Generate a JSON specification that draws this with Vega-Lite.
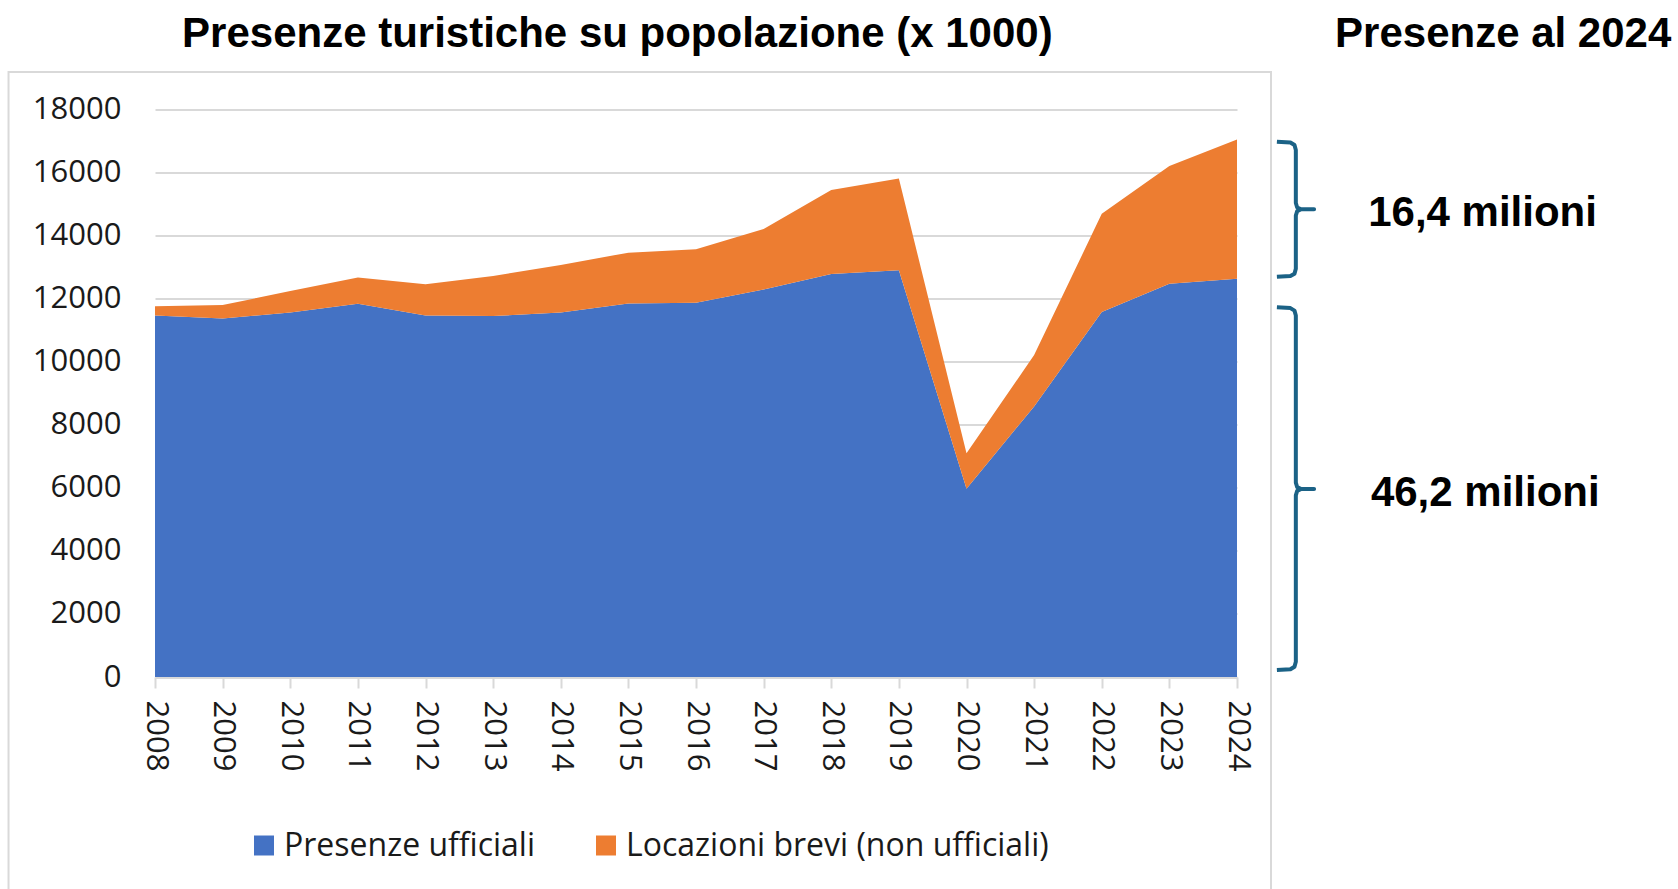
{
  "$schema": "https://vega.github.io/schema/vega-lite/v6.json",
  "width": 1082,
  "height": 567.5,
  "autosize": {"type": "none"},
  "padding": {"left": 155, "top": 109.5, "right": 441, "bottom": 212},
  "background": "white",
  "config": {"view": {"stroke": null}},
  "layer": [
    {
      "data": {
        "values": [
          {"anno": 2008, "serie": "Presenze ufficiali", "presenze": 11470},
          {"anno": 2009, "serie": "Presenze ufficiali", "presenze": 11370},
          {"anno": 2010, "serie": "Presenze ufficiali", "presenze": 11560},
          {"anno": 2011, "serie": "Presenze ufficiali", "presenze": 11840},
          {"anno": 2012, "serie": "Presenze ufficiali", "presenze": 11470},
          {"anno": 2013, "serie": "Presenze ufficiali", "presenze": 11450},
          {"anno": 2014, "serie": "Presenze ufficiali", "presenze": 11560},
          {"anno": 2015, "serie": "Presenze ufficiali", "presenze": 11850},
          {"anno": 2016, "serie": "Presenze ufficiali", "presenze": 11870},
          {"anno": 2017, "serie": "Presenze ufficiali", "presenze": 12290},
          {"anno": 2018, "serie": "Presenze ufficiali", "presenze": 12780},
          {"anno": 2019, "serie": "Presenze ufficiali", "presenze": 12900},
          {"anno": 2020, "serie": "Presenze ufficiali", "presenze": 5970},
          {"anno": 2021, "serie": "Presenze ufficiali", "presenze": 8580},
          {"anno": 2022, "serie": "Presenze ufficiali", "presenze": 11580},
          {"anno": 2023, "serie": "Presenze ufficiali", "presenze": 12470},
          {"anno": 2024, "serie": "Presenze ufficiali", "presenze": 12630},
          {"anno": 2008, "serie": "Locazioni brevi (non ufficiali)", "presenze": 290},
          {"anno": 2009, "serie": "Locazioni brevi (non ufficiali)", "presenze": 430},
          {"anno": 2010, "serie": "Locazioni brevi (non ufficiali)", "presenze": 680},
          {"anno": 2011, "serie": "Locazioni brevi (non ufficiali)", "presenze": 830},
          {"anno": 2012, "serie": "Locazioni brevi (non ufficiali)", "presenze": 990},
          {"anno": 2013, "serie": "Locazioni brevi (non ufficiali)", "presenze": 1270},
          {"anno": 2014, "serie": "Locazioni brevi (non ufficiali)", "presenze": 1510},
          {"anno": 2015, "serie": "Locazioni brevi (non ufficiali)", "presenze": 1610},
          {"anno": 2016, "serie": "Locazioni brevi (non ufficiali)", "presenze": 1700},
          {"anno": 2017, "serie": "Locazioni brevi (non ufficiali)", "presenze": 1920},
          {"anno": 2018, "serie": "Locazioni brevi (non ufficiali)", "presenze": 2670},
          {"anno": 2019, "serie": "Locazioni brevi (non ufficiali)", "presenze": 2910},
          {"anno": 2020, "serie": "Locazioni brevi (non ufficiali)", "presenze": 1130},
          {"anno": 2021, "serie": "Locazioni brevi (non ufficiali)", "presenze": 1630},
          {"anno": 2022, "serie": "Locazioni brevi (non ufficiali)", "presenze": 3110},
          {"anno": 2023, "serie": "Locazioni brevi (non ufficiali)", "presenze": 3740},
          {"anno": 2024, "serie": "Locazioni brevi (non ufficiali)", "presenze": 4420}
        ]
      },
      "mark": {"type": "area", "interpolate": "linear", "opacity": 1},
      "encoding": {
        "x": {
          "field": "anno",
          "type": "quantitative",
          "scale": {"domain": [2008, 2024], "nice": false, "zero": false},
          "axis": {
            "title": null,
            "values": [2008, 2009, 2010, 2011, 2012, 2013, 2014, 2015, 2016, 2017, 2018, 2019, 2020, 2021, 2022, 2023, 2024],
            "format": "d",
            "labelAngle": 90,
            "grid": false,
            "domainColor": "#d9d9d9",
            "domainWidth": 2,
            "tickColor": "#d9d9d9",
            "tickWidth": 2,
            "tickSize": 11,
            "labelPadding": 12,
            "labelFont": "Open Sans",
            "labelFontSize": 31,
            "labelColor": "#1a1a1a",
            "labelFlush": false,
            "labelOverlap": false
          }
        },
        "y": {
          "field": "presenze",
          "type": "quantitative",
          "stack": "zero",
          "scale": {"domain": [0, 18000], "nice": false},
          "axis": {
            "title": null,
            "values": [0, 2000, 4000, 6000, 8000, 10000, 12000, 14000, 16000, 18000],
            "format": "d",
            "domain": false,
            "ticks": false,
            "gridColor": "#d9d9d9",
            "gridWidth": 2,
            "labelPadding": 34,
            "labelFont": "Open Sans",
            "labelFontSize": 31,
            "labelColor": "#1a1a1a"
          }
        },
        "color": {
          "field": "serie",
          "type": "nominal",
          "scale": {
            "domain": ["Presenze ufficiali", "Locazioni brevi (non ufficiali)"],
            "range": ["#4472c4", "#ed7d31"]
          },
          "legend": {
            "orient": "none",
            "legendX": 93,
            "legendY": 720,
            "direction": "horizontal",
            "title": null,
            "symbolType": "square",
            "symbolSize": 400,
            "symbolStrokeWidth": 0,
            "symbolOpacity": 1,
            "labelFont": "Open Sans",
            "labelFontSize": 32,
            "labelColor": "#1a1a1a",
            "labelOffset": 4,
            "columnPadding": 55,
            "labelLimit": 0
          }
        },
        "order": {"field": "serie", "sort": "descending"}
      }
    },
    {
      "data": {
        "values": [
          {"graffa": "alta", "anno": 2024.59, "presenze": 16979},
          {"graffa": "alta", "anno": 2024.79, "presenze": 16953},
          {"graffa": "alta", "anno": 2024.85, "presenze": 16874},
          {"graffa": "alta", "anno": 2024.87, "presenze": 16716},
          {"graffa": "alta", "anno": 2024.87, "presenze": 15035},
          {"graffa": "alta", "anno": 2024.89, "presenze": 14892},
          {"graffa": "alta", "anno": 2024.95, "presenze": 14835},
          {"graffa": "alta", "anno": 2025.14, "presenze": 14835},
          {"graffa": "alta", "anno": 2024.95, "presenze": 14835},
          {"graffa": "alta", "anno": 2024.89, "presenze": 14778},
          {"graffa": "alta", "anno": 2024.87, "presenze": 14638},
          {"graffa": "alta", "anno": 2024.87, "presenze": 12951},
          {"graffa": "alta", "anno": 2024.85, "presenze": 12790},
          {"graffa": "alta", "anno": 2024.79, "presenze": 12720},
          {"graffa": "alta", "anno": 2024.59, "presenze": 12697},
          {"graffa": "bassa", "anno": 2024.59, "presenze": 11726},
          {"graffa": "bassa", "anno": 2024.79, "presenze": 11701},
          {"graffa": "bassa", "anno": 2024.85, "presenze": 11621},
          {"graffa": "bassa", "anno": 2024.87, "presenze": 11463},
          {"graffa": "bassa", "anno": 2024.87, "presenze": 6163},
          {"graffa": "bassa", "anno": 2024.89, "presenze": 6020},
          {"graffa": "bassa", "anno": 2024.95, "presenze": 5963},
          {"graffa": "bassa", "anno": 2025.14, "presenze": 5963},
          {"graffa": "bassa", "anno": 2024.95, "presenze": 5963},
          {"graffa": "bassa", "anno": 2024.89, "presenze": 5906},
          {"graffa": "bassa", "anno": 2024.87, "presenze": 5763},
          {"graffa": "bassa", "anno": 2024.87, "presenze": 485},
          {"graffa": "bassa", "anno": 2024.85, "presenze": 327},
          {"graffa": "bassa", "anno": 2024.79, "presenze": 247},
          {"graffa": "bassa", "anno": 2024.59, "presenze": 222}
        ]
      },
      "mark": {"type": "line", "color": "#1b6286", "strokeWidth": 4, "strokeJoin": "round", "strokeCap": "butt"},
      "encoding": {
        "x": {"field": "anno", "type": "quantitative", "scale": {"domain": [2008, 2024], "nice": false, "zero": false}},
        "y": {"field": "presenze", "type": "quantitative", "scale": {"domain": [0, 18000], "nice": false}},
        "detail": {"field": "graffa"},
        "order": {"value": null}
      }
    },
    {
      "data": {
        "values": [
          {"testo": "Presenze turistiche su popolazione (x 1000)", "anno": 2008.4, "presenze": 19982},
          {"testo": "16,4 milioni", "anno": 2025.94, "presenze": 14305},
          {"testo": "46,2 milioni", "anno": 2025.98, "presenze": 5424},
          {"testo": "Presenze al 2024", "anno": 2025.45, "presenze": 19982}
        ]
      },
      "mark": {"type": "text", "align": "left", "baseline": "alphabetic", "font": "Liberation Sans", "fontSize": 42, "fontWeight": "bold", "color": "#000000"},
      "encoding": {
        "x": {"field": "anno", "type": "quantitative", "scale": {"domain": [2008, 2024], "nice": false, "zero": false}},
        "y": {"field": "presenze", "type": "quantitative", "scale": {"domain": [0, 18000], "nice": false}},
        "text": {"field": "testo"}
      }
    },
    {
      "data": {"values": [{"x": 2005.834, "x2": 2024.503, "y": 19189, "y2": -6915}]},
      "mark": {"type": "rect", "fillOpacity": 0, "stroke": "#d9d9d9", "strokeWidth": 2},
      "encoding": {
        "x": {"field": "x", "type": "quantitative", "scale": {"domain": [2008, 2024], "nice": false, "zero": false}},
        "x2": {"field": "x2"},
        "y": {"field": "y", "type": "quantitative", "scale": {"domain": [0, 18000], "nice": false}},
        "y2": {"field": "y2"}
      }
    }
  ]
}
